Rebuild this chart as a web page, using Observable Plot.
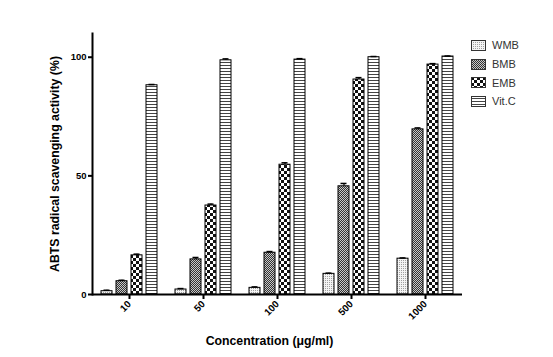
<!DOCTYPE html>
<html><head><meta charset="utf-8">
<script src="https://cdn.jsdelivr.net/npm/d3@7"></script>
<script src="https://cdn.jsdelivr.net/npm/@observablehq/plot@0.6"></script>
<style>
body{margin:0;background:#fff;}
#wrap{position:relative;width:553px;height:357px;}
#legend{position:absolute;left:471px;top:36px;font:11px "Liberation Sans",Arial,sans-serif;color:#333;}
#legend .row{display:flex;align-items:center;height:18.7px;}
#legend svg{margin-right:6px;}
</style></head><body>
<svg width="0" height="0" style="position:absolute">
<defs>
<pattern id="p-wmb" width="2" height="2" patternUnits="userSpaceOnUse"><rect width="2" height="2" fill="#f4f4f4"/><rect width="1" height="1" fill="#a0a0a0"/></pattern>
<pattern id="p-bmb" width="2" height="2" patternUnits="userSpaceOnUse"><rect width="2" height="2" fill="#c8c8c8"/><rect width="1" height="1" fill="#333"/><rect x="1" y="1" width="1" height="1" fill="#333"/></pattern>
<pattern id="p-emb" width="6" height="6" patternUnits="userSpaceOnUse"><rect width="6" height="6" fill="#fff"/><rect width="3" height="3" fill="#111"/><rect x="3" y="3" width="3" height="3" fill="#111"/></pattern>
<pattern id="p-vitc" width="3" height="3" patternUnits="userSpaceOnUse"><rect width="3" height="3" fill="#fff"/><rect y="2" width="3" height="1" fill="#444"/></pattern>
</defs></svg>
<div id="wrap"><div id="legend"></div></div>
<script>
const concentrations = ["10", "50", "100", "500", "1000"];
const series = ["WMB", "BMB", "EMB", "Vit.C"];
const wmb  = [1.4, 2.1, 2.8, 8.7, 15.1];
const bmb  = [5.6, 14.8, 17.6, 45.6, 69.6];
const emb  = [16.5, 37.5, 54.7, 90.6, 96.9];
const vitc = [88.2, 98.7, 99.0, 100.0, 100.3];
const errWmb  = [0.4, 0.4, 0.4, 0.3, 0.3];
const errBmb  = [0.4, 0.8, 0.5, 1.2, 0.6];
const errEmb  = [0.5, 0.6, 0.8, 0.8, 0.4];
const errVitc = [0.3, 0.6, 0.4, 0.3, 0.2];
const patterns = ["url(#p-wmb)", "url(#p-bmb)", "url(#p-emb)", "url(#p-vitc)"];

const values = [wmb, bmb, emb, vitc];
const errs = [errWmb, errBmb, errEmb, errVitc];
const rows = [];
concentrations.forEach((c, i) => series.forEach((s, j) => rows.push({conc: c, series: s, value: values[j][i], err: errs[j][i]})));

const font = '"Liberation Sans", Arial, sans-serif';
const chart = Plot.plot({
  width: 553, height: 357,
  marginLeft: 91, marginRight: 90.5, marginTop: 33, marginBottom: 63,
  style: {fontFamily: font, fontSize: "9.5px", fontWeight: "bold", color: "#000", background: "#fff"},
  fx: {domain: concentrations, padding: 0},
  x: {domain: series, paddingInner: 0.28, paddingOuter: 0.5, axis: null},
  y: {domain: [0, 110]},
  color: {domain: series, range: patterns},
  marks: [
    Plot.barY(rows, {fx: "conc", x: "series", y: "value", fill: "series", stroke: "#000", strokeWidth: 1}),
    Plot.ruleX(rows, {fx: "conc", x: "series", y1: "value", y2: d => d.value + d.err, stroke: "#000", strokeWidth: 1.2}),
    Plot.tickY(rows, {fx: "conc", x: "series", y: d => d.value + d.err, insetLeft: 2.5, insetRight: 2.5, stroke: "#000", strokeWidth: 1.5}),
    Plot.ruleY([0], {stroke: "#000", strokeWidth: 2}),
    Plot.frame({anchor: "left", facetAnchor: "left", stroke: "#000", strokeWidth: 2}),
    Plot.axisY([0, 50, 100], {tickSize: 4, strokeWidth: 2, tickPadding: 2,
      label: "ABTS radical scavenging activity (%)", labelAnchor: "center", labelArrow: "none", labelOffset: 42, fontSize: 9.5}),
    Plot.axisFx({anchor: "bottom", tickRotate: -45, tickSize: 5, strokeWidth: 2, tickPadding: 3,
      label: "Concentration (μg/ml)", labelAnchor: "center", labelOffset: 50, fontSize: 9.8})
  ]
});
document.getElementById("wrap").prepend(chart);
chart.style.position = "absolute"; chart.style.left = "0"; chart.style.top = "0";
d3.select(chart).selectAll("g[aria-label='y-axis label'] text, g[aria-label='fx-axis label'] text").style("font-size", "12.3px");
d3.select(chart).selectAll("g[aria-label='fx-axis label']").each(function() {
  const t = this.getAttribute("transform") || "";
  this.setAttribute("transform", "translate(-8,0) " + t);
});

const legend = d3.select("#legend");
series.forEach((s, j) => {
  const row = legend.append("div").attr("class", "row");
  const sw = row.append("svg").attr("width", 15).attr("height", 11);
  sw.append("rect").attr("x", 0.5).attr("y", 0.5).attr("width", 14).attr("height", 10)
    .attr("fill", patterns[j]).attr("stroke", "#333").attr("stroke-width", 1);
  row.append("span").text(s);
});
</script>
</body></html>
